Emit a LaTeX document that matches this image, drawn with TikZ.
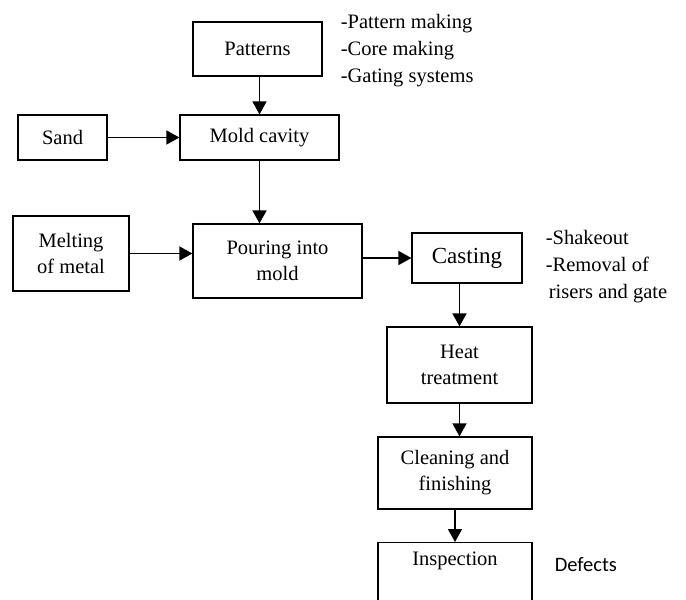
\documentclass[tikz,border=0pt]{standalone}
\usepackage{fontspec}
\setmainfont{Liberation Serif}
\newfontfamily\defectsfont{Carlito}
\usetikzlibrary{arrows.meta}

\tikzset{
every node/.style={inner sep=0pt,font=\fontsize{20.5}{26}\selectfont},
style1/.style= {rectangle, draw, line width=1.2pt, align=center},
style2/.style= {align=left, anchor=north west, font=\fontsize{20.5}{27}\selectfont},
style3/.style= {anchor=base west, font=\defectsfont\fontsize{20.5}{26}\selectfont}
}

\begin{document}
\begin{tikzpicture}[
x=1pt, y=-1pt,
line width=1.6pt,
>={Triangle[length=13pt,width=14pt]}]

\clip (0,0) rectangle (686,600);

% the boxes of the process
\node[style1, minimum width=129pt, minimum height=54pt] (patterns) at (257.5,49) {Patterns};
\node[style1, minimum width=159pt, minimum height=45pt] (mold) at (259.5,137.5) {Mold cavity};
\node[style1, minimum width=89pt, minimum height=45pt] (sand) at (62.5,137.5) {Sand};
\node[style1, minimum width=116pt, minimum height=75pt] (melt) at (71,253.5) {Melting\\of metal};
\node[style1, minimum width=169pt, minimum height=74pt] (pour) at (277.5,261) {Pouring into\\mold};
\node[style1, minimum width=110pt, minimum height=50pt,
  font=\fontsize{23}{26}\selectfont] (cast) at (467,258) {Casting};
\node[style1, minimum width=145pt, minimum height=76pt] (heat) at (459.5,365) {Heat\\treatment};
\node[style1, minimum width=154pt, minimum height=72pt] (clean) at (455,473) {Cleaning and\\finishing};
\node[style1, minimum width=154pt, anchor=north, inner ysep=9pt,
  text height=14pt, text depth=60pt] (insp) at (455,542) {Inspection};

% the notes beside the boxes
\node[style2] (notes1) at (340,13) {-Pattern making\\-Core making\\-Gating systems};
\node[style2] (notes2) at (545,229) {-Shakeout\\-Removal of\\\hspace{3pt}risers and gate};
\node[style3] (defects) at (554,571) {Defects};

% arrows between the boxes
\draw[->] (patterns.south -| mold) -- (mold.north);
\draw[->] (sand) -- (mold);
\draw[->] (mold.south) -- (mold.south |- pour.north);
\draw[->] (melt.east) -- (melt.east -| pour.west);
\draw[->] (pour.east |- cast) -- (cast.west);
\draw[->] (cast.south -| heat) -- (heat.north);
\draw[->] (heat.south) -- (heat.south |- clean.north);
\draw[->] (clean.south) -- (insp.north);
\end{tikzpicture}
\end{document}
